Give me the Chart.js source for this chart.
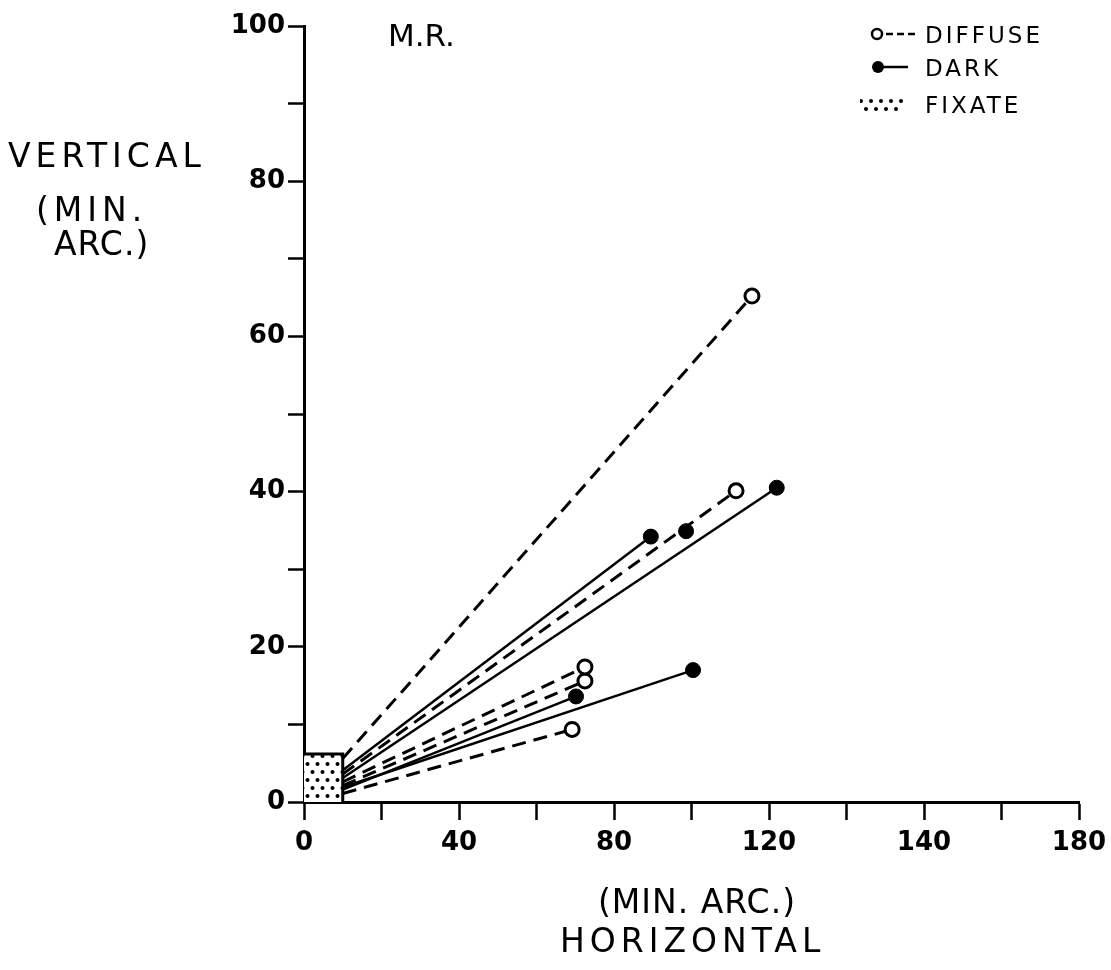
<!DOCTYPE html>
<html>
<head>
<meta charset="utf-8">
<script src="https://cdn.jsdelivr.net/npm/chart.js@4.4.1/dist/chart.umd.min.js"></script>
<style>
  body { margin: 0; background: #fff; }
  #wrap { position: relative; width: 1111px; height: 970px; font-family: "DejaVu Sans", sans-serif; color: #000; }
  canvas { position: absolute; left: 0; top: 0; }
  .lbl { position: absolute; white-space: nowrap; line-height: 1; }
  .big { font-size: 33px; letter-spacing: 5px; }
  .leg { font-size: 23px; letter-spacing: 3px; }
</style>
</head>
<body>
<div id="wrap">
  <canvas id="chart" width="1111" height="970"></canvas>
  <div class="lbl big" style="left:388px;top:20px;font-size:31px;letter-spacing:0;">M.R.</div>
  <div class="lbl big" style="left:8px;top:139px;">VERTICAL</div>
  <div class="lbl big" style="left:36px;top:193px;">(MIN.</div>
  <div class="lbl big" style="left:54px;top:227px;letter-spacing:1px;">ARC.)</div>
  <div class="lbl big" style="left:598px;top:885px;letter-spacing:1px;">(MIN. ARC.)</div>
  <div class="lbl big" style="left:560px;top:924px;">HORIZONTAL</div>

  <svg class="lbl" style="left:860px;top:20px;" width="60" height="100">
    <circle cx="17" cy="14" r="5" fill="#fff" stroke="#000" stroke-width="2.5"/>
    <line x1="26" y1="14" x2="56" y2="14" stroke="#000" stroke-width="2.5" stroke-dasharray="7,4"/>
    <circle cx="18" cy="47" r="6" fill="#000"/>
    <line x1="22" y1="47" x2="48" y2="47" stroke="#000" stroke-width="2.5"/>
    <g fill="#000">
      <circle cx="1" cy="81" r="2"/><circle cx="11" cy="81" r="2"/><circle cx="21" cy="81" r="2"/><circle cx="31" cy="81" r="2"/><circle cx="41" cy="81" r="2"/>
      <circle cx="6" cy="89" r="2"/><circle cx="16" cy="89" r="2"/><circle cx="26" cy="89" r="2"/><circle cx="36" cy="89" r="2"/>
    </g>
  </svg>
  <div class="lbl leg" style="left:925px;top:24px;">DIFFUSE</div>
  <div class="lbl leg" style="left:925px;top:57px;">DARK</div>
  <div class="lbl leg" style="left:925px;top:94px;">FIXATE</div>
</div>
<script>
// x tick labels as lettered on the original axis (one per 20 units)
const xTickLabels = ['0', '', '40', '', '80', '', '120', '', '140', '', '180'];

// fixation area (min. arc)
const fixateBox = [{ x: 0, y: 6.2 }, { x: 10, y: 6.2 }, { x: 10, y: 0 }];

// diffuse runs: start and end of each drift
const diffuseStart = [[10, 5.6], [10, 3.6], [10, 2.6], [10, 2.1], [10, 1.1]];
const diffuseEnd = [[115.6, 65.2], [111.5, 40.1], [72.5, 17.4], [72.5, 15.6], [69.2, 9.35]];

// dark runs
const darkStart = [[10, 4.1], [10, 3.1], [10, 1.6], [10, 1.9]];
const darkEnd = [[89.5, 34.2], [122, 40.5], [70.2, 13.6], [100.4, 17.0]];
const darkLone = [[98.6, 34.9]];

function pt(p) { return { x: p[0], y: p[1] }; }

// dotted fill for the fixate square
function dotPattern() {
    const c = document.createElement('canvas');
    c.width = 10; c.height = 16;
    const g = c.getContext('2d');
    g.fillStyle = '#fff';
    g.fillRect(0, 0, 10, 16);
    g.fillStyle = '#000';
    g.beginPath(); g.arc(2.5, 4, 2, 0, Math.PI * 2); g.fill();
    g.beginPath(); g.arc(7.5, 12, 2, 0, Math.PI * 2); g.fill();
    return g.createPattern(c, 'repeat');
}

const datasets = [];

datasets.push({
    data: fixateBox,
    borderColor: '#000',
    borderWidth: 3,
    backgroundColor: dotPattern(),
    fill: 'origin',
    pointRadius: 0,
    tension: 0
});

diffuseStart.forEach((s, i) => {
    datasets.push({
        data: [pt(s), pt(diffuseEnd[i])],
        borderColor: '#000',
        borderWidth: 3,
        borderDash: [14, 8],
        pointRadius: [0, 7],
        pointBorderWidth: 3,
        pointBorderColor: '#000',
        pointBackgroundColor: '#fff'
    });
});

darkStart.forEach((s, i) => {
    datasets.push({
        data: [pt(s), pt(darkEnd[i])],
        borderColor: '#000',
        borderWidth: 2.5,
        pointRadius: [0, 7.5],
        pointBorderWidth: 1,
        pointBorderColor: '#000',
        pointBackgroundColor: '#000'
    });
});

datasets.push({
    data: darkLone.map(pt),
    showLine: false,
    pointRadius: 7.5,
    pointBorderWidth: 1,
    pointBorderColor: '#000',
    pointBackgroundColor: '#000'
});

const tickFont = { family: '"DejaVu Sans", sans-serif', size: 26, weight: 'bold' };

new Chart(document.getElementById('chart'), {
    type: 'line',
    data: { datasets: datasets },
    options: {
        responsive: false,
        animation: false,
        layout: { padding: { top: 26, right: 32, left: 0, bottom: 0 } },
        plugins: { legend: { display: false }, tooltip: { enabled: false } },
        scales: {
            x: {
                type: 'linear',
                min: 0, max: 200,
                ticks: {
                    stepSize: 20,
                    color: '#000',
                    font: tickFont,
                    padding: 8,
                    maxRotation: 0,
                    autoSkip: false,
                    callback: (v, i) => xTickLabels[i]
                },
                grid: { drawOnChartArea: false, tickLength: 18, tickWidth: 2.5, color: '#000' },
                border: { width: 3, color: '#000' },
                afterFit: (s) => { s.height = 168; s.paddingLeft = 0; s.paddingRight = 0; }
            },
            y: {
                type: 'linear',
                min: 0, max: 100,
                ticks: {
                    stepSize: 10,
                    color: '#000',
                    font: tickFont,
                    padding: 3,
                    autoSkip: false,
                    callback: (v) => (v % 20 === 0 ? String(v) : '')
                },
                grid: { drawOnChartArea: false, tickLength: 16, tickWidth: 2.5, color: '#000' },
                border: { width: 3, color: '#000' },
                afterFit: (s) => { s.width = 304; }
            }
        }
    }
});
</script>
</body>
</html>
